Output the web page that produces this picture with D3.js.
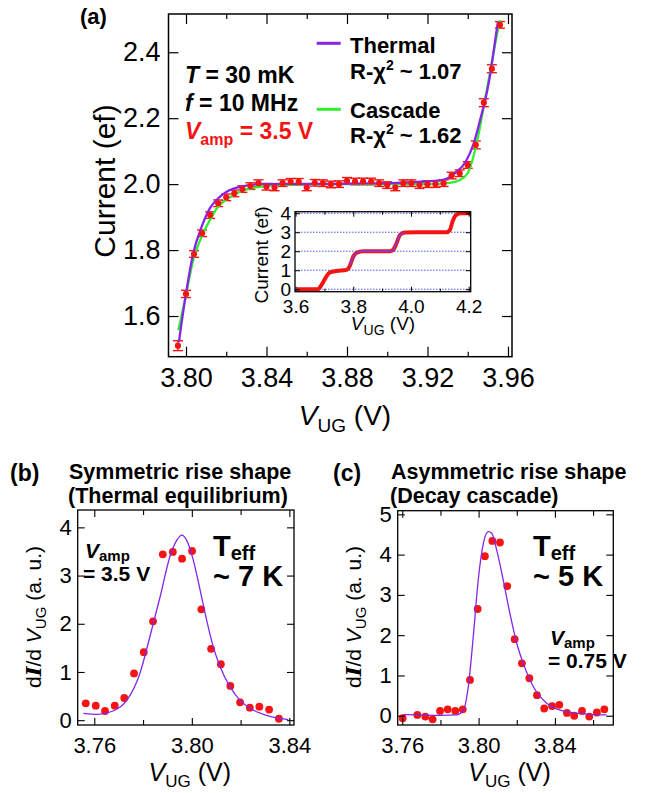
<!DOCTYPE html>
<html>
<head>
<meta charset="utf-8">
<script src="https://cdn.jsdelivr.net/npm/d3@7"></script>
<style>
body { margin: 0; background: #fff; }
svg { display: block; font-family: 'Liberation Sans', Arial, Helvetica, sans-serif; }
</style>
</head>
<body>
<script>
// ---- panel (a): measured current with error bars
const mainV = [3.796, 3.800, 3.804, 3.808, 3.812, 3.816, 3.820, 3.824, 3.828, 3.832,
    3.836, 3.840, 3.844, 3.848, 3.852, 3.856, 3.860, 3.864, 3.868, 3.872,
    3.876, 3.880, 3.884, 3.888, 3.892, 3.896, 3.900, 3.904, 3.908, 3.912,
    3.916, 3.920, 3.924, 3.928, 3.932, 3.936, 3.940, 3.944, 3.948, 3.952, 3.956];
const mainI = [1.510, 1.667, 1.788, 1.851, 1.906, 1.942, 1.960, 1.972, 1.985, 1.994,
    2.003, 1.992, 1.990, 2.003, 2.007, 2.007, 1.990, 2.004, 2.003, 1.999,
    2.000, 2.010, 2.008, 2.008, 2.008, 2.003, 1.997, 1.990, 2.003, 2.003,
    1.997, 2.000, 2.000, 2.003, 2.026, 2.033, 2.058, 2.119, 2.247, 2.350, 2.483];
const mainErr = [0.015, 0.011, 0.010, 0.010, 0.010, 0.010, 0.010, 0.010, 0.010, 0.010,
    0.010, 0.010, 0.010, 0.010, 0.010, 0.010, 0.010, 0.010, 0.010, 0.010,
    0.010, 0.010, 0.010, 0.010, 0.010, 0.010, 0.010, 0.010, 0.010, 0.010,
    0.010, 0.010, 0.010, 0.010, 0.010, 0.010, 0.010, 0.012, 0.012, 0.012, 0.010];

// fit curves
const thermalV = [3.7965, 3.800, 3.8036, 3.8078, 3.8119, 3.816, 3.8202, 3.8268, 3.8367, 3.85,
    3.87, 3.89, 3.905, 3.915, 3.9276, 3.934, 3.939, 3.943, 3.9466, 3.9487, 3.951, 3.9532, 3.955];
const thermalI = [1.522, 1.669, 1.790, 1.871, 1.927, 1.957, 1.977, 1.992, 2.000, 2.001,
    2.001, 2.002, 2.004, 2.007, 2.013, 2.035, 2.068, 2.124, 2.205, 2.255, 2.326, 2.417, 2.493];
const cascadeV = [3.7962, 3.7995, 3.8036, 3.8078, 3.8119, 3.816, 3.8202, 3.8268, 3.8367, 3.8466,
    3.87, 3.90, 3.92, 3.9309, 3.9358, 3.940, 3.9428, 3.9458, 3.9482, 3.9507, 3.954, 3.956];
const cascadeI = [1.557, 1.648, 1.770, 1.841, 1.891, 1.932, 1.954, 1.977, 1.992, 1.998,
    2.000, 2.000, 2.000, 2.004, 2.012, 2.033, 2.083, 2.164, 2.245, 2.326, 2.437, 2.498];

// inset: full staircase
const insetV = [3.603, 3.678, 3.690, 3.705, 3.719, 3.742, 3.777, 3.788, 3.800, 3.813, 3.834,
    3.927, 3.938, 3.950, 3.962, 3.979, 4.019, 4.123, 4.135, 4.144, 4.156, 4.175, 4.204];
const insetI = [0, 0, 0.23, 0.63, 0.89, 0.96, 1.02, 1.23, 1.72, 1.93, 2.0,
    2.0, 2.07, 2.42, 2.86, 2.98, 3.0, 3.0, 3.12, 3.56, 3.91, 4.0, 4.0];

// ---- panel (b)
const bV = [3.7565, 3.7606, 3.7644, 3.7684, 3.7723, 3.7763, 3.7803, 3.7841, 3.7881, 3.7922,
    3.7960, 3.8001, 3.8039, 3.8079, 3.8119, 3.8158, 3.8198, 3.8238, 3.8277, 3.8317, 3.8357];
const bY = [0.35, 0.30, 0.19, 0.30, 0.46, 0.97, 1.41, 2.05, 3.44, 3.49,
    3.35, 3.51, 2.30, 1.48, 1.16, 0.71, 0.37, 0.26, 0.28, 0.22, 0.03];
const bFitV = [3.7555, 3.7613, 3.7677, 3.7733, 3.7787, 3.7828, 3.7870, 3.7910, 3.7938, 3.7959,
    3.7979, 3.8006, 3.8034, 3.8061, 3.8088, 3.8116, 3.8157, 3.8198, 3.8252, 3.8307, 3.8396];
const bFitY = [0.14, 0.12, 0.19, 0.41, 0.97, 1.73, 2.56, 3.39, 3.73, 3.84,
    3.73, 3.32, 2.70, 2.07, 1.52, 1.11, 0.69, 0.41, 0.21, 0.10, 0.01];

// ---- panel (c)
const cV = [3.7602, 3.7679, 3.7721, 3.7759, 3.7798, 3.7838, 3.7878, 3.7917, 3.7955, 3.7995,
    3.8033, 3.8072, 3.8112, 3.8150, 3.8189, 3.8227, 3.8266, 3.8306, 3.8344, 3.8385,
    3.8423, 3.8463, 3.8501, 3.8542, 3.8580, 3.8620, 3.8659];
const cY = [-0.06, 0.02, -0.02, -0.09, 0.12, 0.16, 0.12, 0.16, 0.89, 2.65,
    3.96, 4.34, 4.30, 3.22, 1.90, 1.30, 0.93, 0.51, 0.18, 0.24,
    0.27, 0.07, 0.00, 0.12, -0.02, 0.08, 0.16];
const cFitV = [3.7605, 3.7700, 3.7800, 3.7885, 3.7920, 3.7946, 3.7972, 3.7998, 3.8025, 3.8051,
    3.8069, 3.8095, 3.8129, 3.8164, 3.8200, 3.8234, 3.8287, 3.8357, 3.8444, 3.8566, 3.8671];
const cFitY = [0.03, 0.02, 0.01, 0.02, 0.14, 0.72, 1.96, 3.37, 4.28, 4.57,
    4.53, 4.11, 3.37, 2.54, 1.80, 1.30, 0.72, 0.31, 0.12, 0.04, 0.02];

// tick values
const mainXMajor = [3.80, 3.84, 3.88, 3.92, 3.96];
const mainXMinor = [3.82, 3.86, 3.90, 3.94];
const mainYMajor = [1.6, 1.8, 2.0, 2.2, 2.4];
const insetXMajor = [3.6, 3.8, 4.0, 4.2];
const insetXMinor = [3.7, 3.9, 4.1];
const insetYMajor = [0, 1, 2, 3, 4];
const bXMajor = [3.76, 3.80, 3.84];
const bXMinor = [3.78, 3.82];
const bYMajor = [0, 1, 2, 3, 4];
const cXMajor = [3.76, 3.80, 3.84];
const cXMinor = [3.78, 3.82, 3.86];
const cYMajor = [0, 1, 2, 3, 4, 5];

const red = '#f41414';
const purple = '#8526e6';
const green = '#2ef02e';

const svg = d3.select('body').append('svg')
    .attr('width', 646)
    .attr('height', 793);
svg.append('rect').attr('width', 646).attr('height', 793).attr('fill', '#fff');

function makeScales(box, xDom, yDom) {
    return {
        x: d3.scaleLinear().domain(xDom).range([box.x0, box.x1]),
        y: d3.scaleLinear().domain(yDom).range([box.y1, box.y0])
    };
}

// inward ticks on all four sides, labels on bottom and left
function drawAxes(box, sc, o) {
    const g = svg.append('g');
    function put(axis, tx, ty, fs) {
        const a = g.append('g').attr('transform', 'translate(' + tx + ',' + ty + ')').call(axis);
        a.select('.domain').remove();
        a.attr('font-family', null).attr('font-size', fs || 10);
        a.selectAll('line').attr('stroke', '#000').attr('stroke-width', o.tw || 1.2);
        a.selectAll('text').attr('fill', '#000');
        return a;
    }
    const L = o.tl, M = o.tm;
    put(d3.axisBottom(sc.x).tickValues(o.xMajor).tickSize(-L).tickPadding(o.padX).tickFormat(d3.format(o.xFmt)), 0, box.y1, o.fs);
    put(d3.axisTop(sc.x).tickValues(o.xMajor).tickSize(-L).tickFormat(''), 0, box.y0);
    put(d3.axisBottom(sc.x).tickValues(o.xMinor).tickSize(-M).tickFormat(''), 0, box.y1);
    put(d3.axisTop(sc.x).tickValues(o.xMinor).tickSize(-M).tickFormat(''), 0, box.y0);
    put(d3.axisLeft(sc.y).tickValues(o.yMajor).tickSize(-L).tickPadding(o.padY).tickFormat(d3.format(o.yFmt)), box.x0, 0, o.fs);
    put(d3.axisRight(sc.y).tickValues(o.yMajor).tickSize(-L).tickFormat(''), box.x1, 0);
    g.append('rect')
        .attr('x', box.x0).attr('y', box.y0)
        .attr('width', box.x1 - box.x0).attr('height', box.y1 - box.y0)
        .attr('fill', 'none').attr('stroke', '#000').attr('stroke-width', o.fw || 1.5);
}

function zip(a, b) {
    return a.map(function(v, i) { return [v, b[i]]; });
}

function vugLabel(x, y, fs, sub) {
    const t = svg.append('text').attr('x', x).attr('y', y)
        .attr('text-anchor', 'middle').attr('font-size', fs);
    t.append('tspan').attr('font-style', 'italic').text('V');
    t.append('tspan').attr('font-size', sub).attr('dy', fs * 0.25).text('UG');
    t.append('tspan').attr('dy', -fs * 0.25).text(' (V)');
}

// ================= panel (a) =================
const boxA = {x0: 168.5, x1: 512, y0: 14, y1: 356.7};
const sA = makeScales(boxA, [3.7913, 3.962], [1.4766, 2.516]);

const lineA = d3.line()
    .x(function(d) { return sA.x(d[0]); })
    .y(function(d) { return sA.y(d[1]); })
    .curve(d3.curveMonotoneX);

// error bars + points
const errG = svg.append('g').attr('stroke', red).attr('stroke-width', 1.4);
mainV.forEach(function(v, i) {
    const cx = sA.x(v);
    const yt = sA.y(mainI[i] + mainErr[i]);
    const yb = sA.y(mainI[i] - mainErr[i]);
    errG.append('line').attr('x1', cx).attr('x2', cx).attr('y1', yt).attr('y2', yb);
    errG.append('line').attr('x1', cx - 5).attr('x2', cx + 5).attr('y1', yt).attr('y2', yt);
    errG.append('line').attr('x1', cx - 5).attr('x2', cx + 5).attr('y1', yb).attr('y2', yb);
});

svg.append('path').datum(zip(cascadeV, cascadeI))
    .attr('d', lineA).attr('fill', 'none').attr('stroke', green).attr('stroke-width', 2.3);
svg.append('path').datum(zip(thermalV, thermalI))
    .attr('d', lineA).attr('fill', 'none').attr('stroke', purple).attr('stroke-width', 2.3);

svg.append('g').selectAll('circle')
    .data(zip(mainV, mainI))
    .enter().append('circle')
    .attr('cx', function(d) { return sA.x(d[0]); })
    .attr('cy', function(d) { return sA.y(d[1]); })
    .attr('r', 3.1)
    .attr('fill', red);

drawAxes(boxA, sA, {
    xMajor: mainXMajor, xMinor: mainXMinor, yMajor: mainYMajor,
    xFmt: '.2f', yFmt: '.1f', fs: 27, padX: 11, padY: 8, tl: 10, tm: 5
});

svg.append('text').attr('x', 80).attr('y', 24).attr('font-size', 22)
    .attr('font-weight', 'bold').text('(a)');

svg.append('text')
    .attr('transform', 'translate(115,181) rotate(-90)')
    .attr('text-anchor', 'middle').attr('font-size', 30)
    .text('Current (ef)');
vugLabel(345, 425, 28, 19);

// conditions
const cond = svg.append('g').attr('font-size', 23).attr('font-weight', 'bold');
let t1 = cond.append('text').attr('x', 185).attr('y', 82.7);
t1.append('tspan').attr('font-style', 'italic').text('T');
t1.append('tspan').text(' = 30 mK');
t1 = cond.append('text').attr('x', 185).attr('y', 110.7);
t1.append('tspan').attr('font-style', 'italic').text('f');
t1.append('tspan').text(' = 10 MHz');
t1 = cond.append('text').attr('x', 185).attr('y', 139.3).attr('fill', red);
t1.append('tspan').attr('font-style', 'italic').text('V');
t1.append('tspan').attr('font-size', 16).attr('dy', 6).text('amp');
t1.append('tspan').attr('dy', -6).text(' = 3.5 V');

// legend
const leg = svg.append('g').attr('font-size', 22).attr('font-weight', 'bold');
leg.append('line').attr('x1', 316.7).attr('x2', 340.7).attr('y1', 43.3).attr('y2', 43.3)
    .attr('stroke', purple).attr('stroke-width', 3);
leg.append('line').attr('x1', 316.7).attr('x2', 340.7).attr('y1', 109.3).attr('y2', 109.3)
    .attr('stroke', green).attr('stroke-width', 3);
leg.append('text').attr('x', 350).attr('y', 52.7).text('Thermal');
leg.append('text').attr('x', 350).attr('y', 118.3).text('Cascade');
[[79, '1.07'], [143.3, '1.62']].forEach(function(r) {
    const t = leg.append('text').attr('x', 350).attr('y', r[0]);
    t.append('tspan').text('R-\u03c7');
    t.append('tspan').attr('font-size', 14).attr('dy', -9).text('2');
    t.append('tspan').attr('dy', 9).text(' ~ ' + r[1]);
});

// ================= inset =================
const boxI = {x0: 295, x1: 470.7, y0: 211.7, y1: 291.7};
const sI = makeScales(boxI, [3.598, 4.207], [-0.13, 4.08]);
svg.append('rect').attr('x', boxI.x0).attr('y', boxI.y0)
    .attr('width', boxI.x1 - boxI.x0).attr('height', boxI.y1 - boxI.y0).attr('fill', '#fff');
svg.append('g').selectAll('line')
    .data(insetYMajor)
    .enter().append('line')
    .attr('x1', boxI.x0).attr('x2', boxI.x1)
    .attr('y1', function(d) { return sI.y(d); })
    .attr('y2', function(d) { return sI.y(d); })
    .attr('stroke', '#4a5cf0').attr('stroke-width', 1)
    .attr('stroke-dasharray', '1.5,1.5');

const lineI = d3.line()
    .x(function(d) { return sI.x(d[0]); })
    .y(function(d) { return sI.y(d[1]); })
    .curve(d3.curveMonotoneX);
const insetPts = zip(insetV, insetI);
svg.append('path').datum(insetPts)
    .attr('d', lineI).attr('fill', 'none').attr('stroke', red).attr('stroke-width', 4);
svg.append('path').datum(insetPts.filter(function(d) { return d[0] > 3.78 && d[0] < 3.98; }))
    .attr('d', lineI).attr('fill', 'none').attr('stroke', '#7a3cf0').attr('stroke-width', 1.4);

drawAxes(boxI, sI, {
    xMajor: insetXMajor, xMinor: insetXMinor, yMajor: insetYMajor,
    xFmt: '.1f', yFmt: 'd', fs: 19, padX: 8, padY: 4, tl: 5, tm: 3, fw: 1.3, tw: 1
});
svg.append('text')
    .attr('transform', 'translate(268,255) rotate(-90)')
    .attr('text-anchor', 'middle').attr('font-size', 19)
    .text('Current (ef)');
vugLabel(383, 330, 19, 14);

// ================= panels (b) and (c) =================
function peakPanel(box, sc, pts, fit, o) {
    const ln = d3.line()
        .x(function(d) { return sc.x(d[0]); })
        .y(function(d) { return sc.y(d[1]); })
        .curve(d3.curveMonotoneX);
    svg.append('g').selectAll('circle')
        .data(pts)
        .enter().append('circle')
        .attr('cx', function(d) { return sc.x(d[0]); })
        .attr('cy', function(d) { return sc.y(d[1]); })
        .attr('r', 3.9)
        .attr('fill', red);
    svg.append('path').datum(fit)
        .attr('d', ln).attr('fill', 'none').attr('stroke', purple).attr('stroke-width', 1.3);
    drawAxes(box, sc, {
        xMajor: o.xMajor, xMinor: o.xMinor, yMajor: o.yMajor,
        xFmt: '.2f', yFmt: 'd', fs: 22, padX: 12, padY: 6, tl: 7, tm: 5, fw: 1.3, tw: 1.1
    });
    // y label
    const t = svg.append('text')
        .attr('transform', 'translate(' + o.ylx + ',617) rotate(-90)')
        .attr('text-anchor', 'middle').attr('font-size', 21);
    t.append('tspan').text('d');
    t.append('tspan').attr('font-family', 'DejaVu Serif, serif').attr('font-style', 'italic')
        .attr('font-weight', 'bold').text('I');
    t.append('tspan').text('/d ');
    t.append('tspan').attr('font-style', 'italic').text('V');
    t.append('tspan').attr('font-size', 15).attr('dy', 5).text('UG');
    t.append('tspan').attr('dy', -5).text(' (a. u.)');
    vugLabel((box.x0 + box.x1) / 2 + 4, 781, 25, 17);
}

const boxB = {x0: 77.7, x1: 294, y0: 510, y1: 725};
const sB = makeScales(boxB, [3.7532, 3.8419], [-0.10, 4.36]);
peakPanel(boxB, sB, zip(bV, bY), zip(bFitV, bFitY),
    {xMajor: bXMajor, xMinor: bXMinor, yMajor: bYMajor, ylx: 41});

const boxC = {x0: 397.7, x1: 613.3, y0: 510.7, y1: 725};
const sC = makeScales(boxC, [3.7576, 3.8706], [-0.23, 5.09]);
peakPanel(boxC, sC, zip(cV, cY), zip(cFitV, cFitY),
    {xMajor: cXMajor, xMinor: cXMinor, yMajor: cYMajor, ylx: 361});

// titles
const ttl = svg.append('g').attr('font-weight', 'bold');
ttl.append('text').attr('x', 10).attr('y', 481).attr('font-size', 23).text('(b)');
ttl.append('text').attr('x', 69).attr('y', 479).attr('font-size', 21.5).text('Symmetric rise shape');
ttl.append('text').attr('x', 68).attr('y', 502.7).attr('font-size', 21.5).text('(Thermal equilibrium)');
ttl.append('text').attr('x', 333).attr('y', 481).attr('font-size', 23).text('(c)');
ttl.append('text').attr('x', 391).attr('y', 479).attr('font-size', 21.5).text('Asymmetric rise shape');
ttl.append('text').attr('x', 390).attr('y', 502.7).attr('font-size', 21.5).text('(Decay cascade)');

// annotations
function vamp(x, y, val) {
    const a = svg.append('text').attr('x', x).attr('y', y).attr('font-size', 21).attr('font-weight', 'bold');
    a.append('tspan').attr('font-style', 'italic').text('V');
    a.append('tspan').attr('font-size', 15).attr('dy', 3).text('amp');
    svg.append('text').attr('x', x - 2).attr('y', y + 23).attr('font-size', 21)
        .attr('font-weight', 'bold').text('= ' + val);
}
function teff(x, y, val) {
    const a = svg.append('text').attr('x', x).attr('y', y).attr('font-size', 29).attr('font-weight', 'bold');
    a.append('tspan').text('T');
    a.append('tspan').attr('font-size', 20).attr('dy', 4).text('eff');
    svg.append('text').attr('x', x).attr('y', y + 30.5).attr('font-size', 29)
        .attr('font-weight', 'bold').text('~ ' + val);
}
vamp(85, 557.5, '3.5 V');
teff(213, 555.5, '7 K');
vamp(550, 645, '0.75 V');
teff(533, 555.5, '5 K');
</script>
</body>
</html>
